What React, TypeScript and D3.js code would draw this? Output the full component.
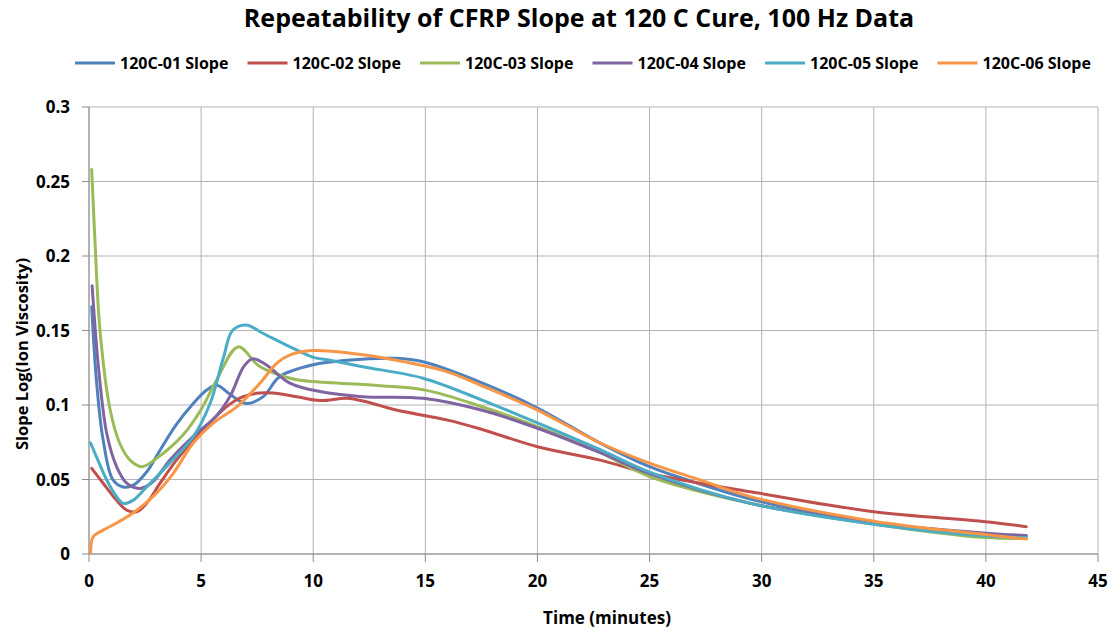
import React from "react";
import * as d3 from "d3";

const seriesNames = ["120C-01 Slope", "120C-02 Slope", "120C-03 Slope", "120C-04 Slope", "120C-05 Slope", "120C-06 Slope"];
const seriesColors = ["#4F81BD", "#C0504D", "#9BBB59", "#8064A2", "#4BACC6", "#F79646"];

const s01T = [0.12, 0.34, 0.63, 1.07, 1.52, 1.96, 2.57, 3.1, 3.9, 4.65, 5.25, 5.7, 6.3, 7.0, 7.77, 8.5, 10, 11.5, 13.7, 14.9, 17.5, 20, 22.8, 25, 27.25, 30, 35, 40, 41.8];
const s01V = [0.166, 0.115, 0.0765, 0.0497, 0.045, 0.046, 0.055, 0.068, 0.087, 0.101, 0.11, 0.1132, 0.107, 0.101, 0.1056, 0.119, 0.127, 0.13, 0.1313, 0.129, 0.115, 0.098, 0.0744, 0.0586, 0.047, 0.035, 0.021, 0.013, 0.012];

const s02T = [0.12, 0.63, 1.23, 1.68, 2.13, 2.57, 3.17, 3.9, 4.95, 6.14, 6.87, 7.6, 8.2, 9.26, 10.3, 11.5, 12.4, 13.7, 15.95, 17.5, 20, 22.8, 25, 27.25, 29.5, 35, 40, 41.8];
const s02V = [0.0575, 0.0475, 0.036, 0.0295, 0.0284, 0.034, 0.0475, 0.063, 0.081, 0.0989, 0.1056, 0.108, 0.108, 0.1056, 0.103, 0.1045, 0.102, 0.0966, 0.09, 0.0837, 0.072, 0.063, 0.054, 0.0475, 0.0418, 0.0284, 0.0217, 0.0183];

const s03T = [0.12, 0.27, 0.49, 0.94, 1.38, 1.83, 2.35, 3.0, 4.2, 5.0, 5.7, 6.65, 7.6, 8.97, 10, 13, 15, 17.5, 20, 22.8, 25, 29.5, 35, 40, 41.8];
const s03V = [0.258, 0.209, 0.15, 0.097, 0.074, 0.063, 0.0586, 0.064, 0.08, 0.097, 0.117, 0.139, 0.126, 0.118, 0.1157, 0.113, 0.11, 0.099, 0.0854, 0.068, 0.052, 0.034, 0.02, 0.011, 0.0105];

const s04T = [0.14, 0.42, 0.79, 1.23, 1.68, 2.27, 2.85, 3.6, 4.65, 5.7, 6.3, 6.9, 7.3, 7.9, 8.96, 10.3, 12.2, 14.9, 17.5, 20, 22.8, 25, 29.5, 35, 40, 41.8];
const s04V = [0.18, 0.1257, 0.081, 0.0586, 0.0475, 0.044, 0.0485, 0.063, 0.079, 0.093, 0.106, 0.1257, 0.131, 0.127, 0.1147, 0.109, 0.1056, 0.1045, 0.0966, 0.0844, 0.068, 0.054, 0.034, 0.021, 0.014, 0.0125];

const s05T = [0.07, 0.34, 0.79, 1.23, 1.52, 1.96, 2.57, 3.6, 4.65, 5.4, 6.0, 6.4, 7.0, 7.77, 8.97, 10, 10.75, 12.2, 14.9, 17.5, 20, 22.8, 25, 29.5, 35, 40, 41.8];
const s05V = [0.0745, 0.065, 0.0497, 0.0385, 0.034, 0.036, 0.045, 0.061, 0.0787, 0.101, 0.132, 0.15, 0.1537, 0.148, 0.139, 0.132, 0.13, 0.1257, 0.118, 0.1035, 0.088, 0.07, 0.055, 0.034, 0.02, 0.012, 0.011];

const s06T = [0.07, 0.19, 0.63, 1.23, 1.96, 2.85, 3.75, 4.65, 5.55, 6.6, 7.63, 8.37, 8.97, 10, 11.5, 13.7, 15.95, 17.5, 20, 22.8, 25, 27.25, 29.5, 35, 40, 41.8];
const s06V = [0.0007, 0.0116, 0.016, 0.0208, 0.0275, 0.0385, 0.054, 0.0745, 0.088, 0.0989, 0.1147, 0.128, 0.1336, 0.1365, 0.135, 0.13, 0.1224, 0.113, 0.0966, 0.0745, 0.061, 0.0497, 0.0385, 0.022, 0.013, 0.01];

const seriesT = [s01T, s02T, s03T, s04T, s05T, s06T];
const seriesV = [s01V, s02V, s03V, s04V, s05V, s06V];

const xTicks = [0, 5, 10, 15, 20, 25, 30, 35, 40, 45];
const yTicks = [0, 0.05, 0.1, 0.15, 0.2, 0.25, 0.3];
const yTickLabels = ["0", "0.05", "0.1", "0.15", "0.2", "0.25", "0.3"];

const W = 1114;
const H = 634;
const left = 89;
const right = 1098;
const top = 107;
const bottom = 554;
const font = "'Open Sans', Lato, sans-serif";

export default function App() {
  const x = d3.scaleLinear().domain([0, 45]).range([left, right]);
  const y = d3.scaleLinear().domain([0, 0.3]).range([bottom, top]);
  const line = d3
    .line<[number, number]>()
    .x((d) => x(d[0]))
    .y((d) => y(d[1]))
    .curve(d3.curveCatmullRom.alpha(0.5));

  return (
    <svg width={W} height={H} style={{ position: "absolute", left: 0, top: 0, background: "#fff" }} fontFamily={font}>
      <rect x={0} y={0} width={W} height={H} fill="#fff" />
      <text x={579} y={27} textAnchor="middle" fontSize={25} fontWeight="bold" fill="#000">
        Repeatability of CFRP Slope at 120 C Cure, 100 Hz Data
      </text>
      {seriesNames.map((n, i) => {
        const lx = 75 + 172.5 * i;
        return (
          <g key={n}>
            <line x1={lx} x2={lx + 40} y1={63} y2={63} stroke={seriesColors[i]} strokeWidth={3} />
            <text x={lx + 45} y={69} fontSize={16} fontWeight="bold" fill="#000">
              {n}
            </text>
          </g>
        );
      })}
      {xTicks.map((t) => (
        <line key={"gx" + t} x1={x(t)} x2={x(t)} y1={top} y2={bottom} stroke="#b3b3b3" strokeWidth={1} />
      ))}
      {yTicks.map((t) => (
        <line key={"gy" + t} x1={left} x2={right} y1={y(t)} y2={y(t)} stroke="#b3b3b3" strokeWidth={1} />
      ))}
      <line x1={left} x2={left} y1={top} y2={bottom} stroke="#8c8c8c" strokeWidth={1} />
      <line x1={left} x2={right} y1={bottom} y2={bottom} stroke="#8c8c8c" strokeWidth={1} />
      {xTicks.map((t) => (
        <line key={"tx" + t} x1={x(t)} x2={x(t)} y1={bottom} y2={bottom + 8} stroke="#8c8c8c" />
      ))}
      {yTicks.map((t) => (
        <line key={"ty" + t} x1={left - 7} x2={left} y1={y(t)} y2={y(t)} stroke="#8c8c8c" />
      ))}
      {xTicks.map((t) => (
        <text key={"lx" + t} x={x(t)} y={587} textAnchor="middle" fontSize={17} fontWeight="bold" fill="#000">
          {t}
        </text>
      ))}
      {yTicks.map((t, i) => (
        <text key={"ly" + t} x={70} y={y(t) + 6} textAnchor="end" fontSize={17} fontWeight="bold" fill="#000">
          {yTickLabels[i]}
        </text>
      ))}
      <text x={607} y={624} textAnchor="middle" fontSize={17} fontWeight="bold" fill="#000">
        Time (minutes)
      </text>
      <text transform="translate(28,354) rotate(-90)" textAnchor="middle" fontSize={16.5} fontWeight="bold" fill="#000">
        Slope Log(Ion Viscosity)
      </text>
      {seriesT.map((ts, i) => {
        const pts = ts.map((t, j) => [t, seriesV[i][j]] as [number, number]);
        return (
          <path key={"s" + i} d={line(pts) || ""} fill="none" stroke={seriesColors[i]} strokeWidth={3} strokeLinejoin="round" strokeLinecap="round" />
        );
      })}
    </svg>
  );
}
